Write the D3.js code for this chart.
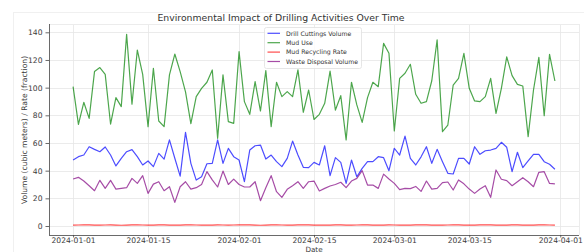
<!DOCTYPE html>
<html><head><meta charset="utf-8">
<script src="https://cdn.jsdelivr.net/npm/d3@7"></script>
<style>body{margin:0;background:#fff}svg{display:block;font-family:"DejaVu Sans",sans-serif}</style>
</head><body><svg id="c" width="584" height="252"></svg>
<script>
const startDate = "2024-01-01";
const xTickLabels = ["2024-01-01","2024-01-15","2024-02-01","2024-02-15","2024-03-01","2024-03-15","2024-04-01"];
const yTicks = [0,20,40,60,80,100,120,140];
const seriesNames = ["Drill Cuttings Volume","Mud Use","Mud Recycling Rate","Waste Disposal Volume"];
const drillCuttings = [47.7,50.1,51.3,57.3,55.4,53.7,57.1,51.3,43.4,48.9,53.7,55.2,50.1,44.1,47,42.9,52.5,48.4,62.2,49,36,67.7,45.3,33.2,35.6,45,45.3,62.2,45.3,56.1,50.1,47.7,32,54.9,58,58.5,48.4,51.3,46.5,42.9,48.9,61.4,51.3,42.4,42.2,46,44.1,58,36.4,49.4,46,30.8,47.7,35.6,41.7,46.5,46.5,50.1,49.4,40,56.2,51.3,65,48.9,44.1,50,57.3,45.3,55.4,46.5,38.1,37.6,48.9,48.9,44.8,57.3,51.8,54.4,54.9,56.1,60.5,56.9,39.3,53.3,42.2,47,51.8,51.8,46.5,44.6,41];
const mudUse = [100.7,73.5,89.4,77.8,111.6,114.5,109.6,73.7,92.8,86.3,138.5,88,127.2,109.6,71.8,114,75.9,71.8,109.2,124.3,111.6,97,74,93.5,99.5,103.9,112.8,63.4,109.2,75.4,74.2,126,89.9,80.7,104.3,83.1,112.3,71.8,103.9,93.5,97.1,93.5,112.8,82.2,98.3,77,80.7,88.7,112,83.8,94.2,62.2,103.9,87.5,74.9,92.8,103.9,100.7,132,124.8,68.7,106.7,110.4,116.9,95.2,88.7,89.9,105,134.5,68.2,73,101.9,106.7,124.8,99.5,90.4,89.9,93.5,106.7,81.4,99.5,122.2,108.7,102.4,101.2,64.6,98.3,121.9,79.7,124.1,104.8];
const mudRecycling = [0.62,0.71,0.85,0.78,0.66,0.59,0.74,0.81,0.69,0.55,0.63,0.77,0.88,0.72,0.6,0.67,0.79,0.83,0.7,0.58,0.65,0.76,0.86,0.73,0.61,0.57,0.68,0.8,0.74,0.64,0.71,0.82,0.9,0.75,0.62,0.56,0.69,0.78,0.84,0.72,0.63,0.66,0.77,0.87,0.79,0.68,0.6,0.58,0.7,0.81,0.76,0.65,0.59,0.72,0.85,0.8,0.67,0.61,0.69,0.78,0.74,0.63,0.57,0.66,0.79,0.88,0.82,0.7,0.62,0.6,0.73,0.84,0.77,0.65,0.58,0.68,0.8,0.86,0.75,0.64,0.61,0.7,0.83,0.79,0.67,0.59,0.64,0.76,0.85,0.72,0.66];
const wasteDisposal = [34,35.2,32.5,29.1,25.5,33,27.2,33,26.7,27.2,27.7,34.4,30.8,36.4,23.6,30.3,32,25.5,28.4,17.1,28.4,32,26.7,27.7,30,39.3,33.3,28.2,39.7,30,33.9,30,28.2,28.2,32,18.3,27.7,36.4,24.8,20.7,26.5,29.1,32,27.2,32,32.5,25.3,27.2,28.9,30,31.6,27.7,32.5,34.4,40,29.6,29.6,27.2,37.5,34,30.8,26.3,27.2,27,28.6,25,32.5,26.6,27.2,31.3,31.8,26,33.3,30.5,26.7,23.6,26.7,29.1,20.7,40.5,33.8,32.8,29.1,32,34.9,32,28.4,38.8,39.3,30.8,30.5];
const colors = ["rgba(0,0,255,0.7)","rgba(0,128,0,0.7)","rgba(255,0,0,0.7)","rgba(128,0,128,0.7)"];

const svg = d3.select("#c");
const L=49,R=579,T=24,B=235;
const day = 864e5;
const t0 = new Date(startDate+"T00:00:00");
const seriesData = [drillCuttings, mudUse, mudRecycling, wasteDisposal];
const dates = drillCuttings.map((_,i)=>new Date(t0.getTime()+i*day));
const x = d3.scaleTime().domain([new Date(t0.getTime()-4.5*day), new Date(t0.getTime()+94.5*day)]).range([L,R]);
const y = d3.scaleLinear().domain([-6.5,146]).range([B,T]);

svg.append("rect").attr("x",13.5).attr("y",12.5).attr("width",580).attr("height",250).attr("fill","none").attr("stroke","#f0f0f0");

const tickDates = xTickLabels.map(s=>new Date(s+"T00:00:00"));
const g = svg.append("g");
g.selectAll(".yg").data(yTicks).join("line").attr("x1",L).attr("x2",R).attr("y1",d=>Math.round(y(d))+0.5).attr("y2",d=>Math.round(y(d))+0.5).attr("stroke","#e6e6e6").attr("stroke-width",0.8);
g.selectAll(".xg").data(tickDates).join("line").attr("y1",T).attr("y2",B).attr("x1",d=>Math.round(x(d))+0.5).attr("x2",d=>Math.round(x(d))+0.5).attr("stroke","#e6e6e6").attr("stroke-width",0.8);
svg.append("line").attr("x1",L).attr("x2",R).attr("y1",T+0.5).attr("y2",T+0.5).attr("stroke","#ececec");
svg.append("line").attr("x1",R+0.5).attr("x2",R+0.5).attr("y1",T).attr("y2",B).attr("stroke","#ececec");

const xAxis = d3.axisBottom(x).tickValues(tickDates).tickFormat((d,i)=>xTickLabels[i]).tickSize(2.5).tickPadding(0.5);
const yAxis = d3.axisLeft(y).tickValues(yTicks).tickSize(3.5).tickPadding(3);
const gx = svg.append("g").attr("transform",`translate(0,${B})`).call(xAxis);
const gy = svg.append("g").attr("transform",`translate(${L},0)`).call(yAxis);
[gx,gy].forEach(a=>{
  a.select(".domain").attr("stroke","#444").attr("stroke-width",0.8);
  a.selectAll(".tick line").attr("stroke","#444").attr("stroke-width",0.8);
  a.selectAll(".tick text").attr("fill","#3a3a3a").style("font-size","7.6px").style("font-family","DejaVu Sans");
});
gx.select(".domain").attr("d",`M${L},0.5H${R}`);
gy.select(".domain").attr("d",`M0.5,${T}V${B}`);

const line = d3.line().x((d,i)=>x(dates[i])).y(d=>y(d));
seriesData.forEach((s,k)=>{
  svg.append("path").datum(s).attr("d",line).attr("fill","none").attr("stroke",colors[k]).attr("stroke-width",1.2).attr("stroke-linejoin","round");
});

svg.append("text").attr("x",281).attr("y",20.5).attr("text-anchor","middle").style("font-size","9.3px").attr("fill","#333").text("Environmental Impact of Drilling Activities Over Time");
svg.append("text").attr("transform","translate(27,130) rotate(-90)").attr("text-anchor","middle").style("font-size","7.6px").attr("fill","#3a3a3a").text("Volume (cubic meters) / Rate (fraction)");
svg.append("text").attr("x",314).attr("y",251.5).attr("text-anchor","middle").style("font-size","7.2px").attr("fill","#3a3a3a").text("Date");

const lg = svg.append("g");
lg.append("rect").attr("x",264.5).attr("y",27.5).attr("width",97).attr("height",41).attr("rx",2).attr("fill","rgba(255,255,255,0.85)").attr("stroke","#e0e0e0").attr("stroke-width",0.8);
seriesNames.forEach((n,i)=>{
  const yy = 33.3 + i*9.4;
  lg.append("line").attr("x1",267.5).attr("x2",280).attr("y1",yy).attr("y2",yy).attr("stroke",colors[i]).attr("stroke-width",1.2);
  lg.append("text").attr("x",286).attr("y",yy+2.2).style("font-size","6.2px").attr("fill","#333").text(n);
});
</script></body></html>
